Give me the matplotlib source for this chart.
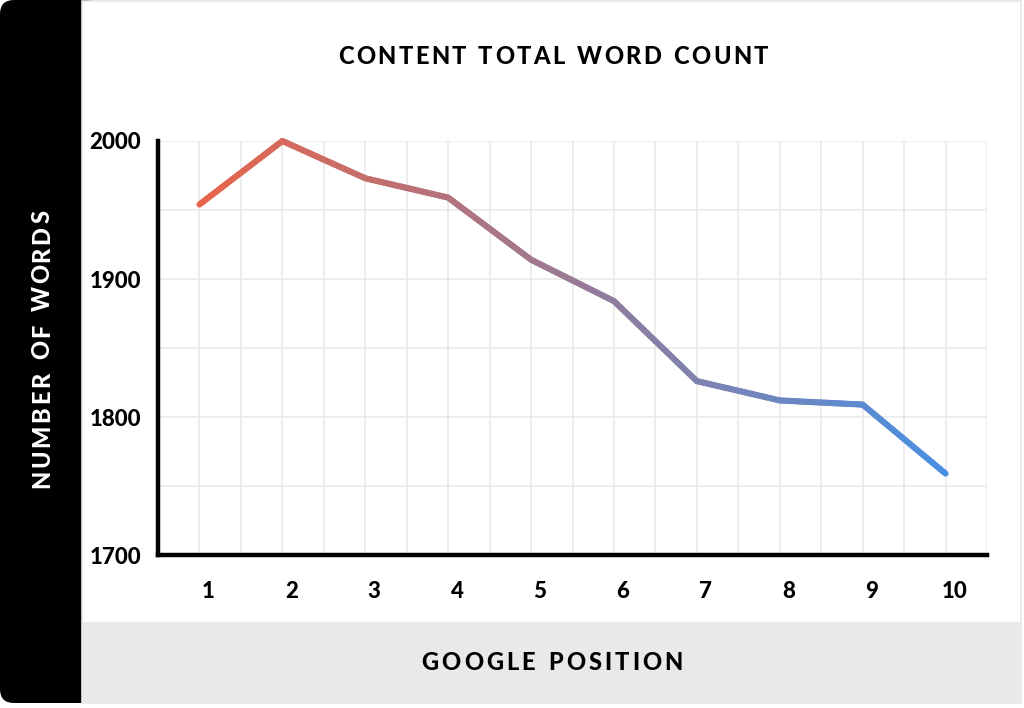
import numpy as np
import matplotlib
matplotlib.use("Agg")
import matplotlib.pyplot as plt
from matplotlib.patches import Rectangle, FancyBboxPatch
from matplotlib.collections import LineCollection
from matplotlib.colors import to_rgb
from matplotlib.font_manager import FontProperties
import matplotlib.transforms as mtransforms

# data
positions = [1, 2, 3, 4, 5, 6, 7, 8, 9, 10]
words = [1954, 2000, 1973, 1959, 1914, 1884, 1826, 1812, 1809, 1759]
y_ticks = [1700, 1800, 1900, 2000]

title = "CONTENT TOTAL WORD COUNT"
x_title = "GOOGLE POSITION"
y_title = "NUMBER OF WORDS"

c_start = "#E8644A"
c_end = "#4A90E2"
W, H = 1024, 708
FONT = "Lato"
WEIGHT = 900

fig = plt.figure(figsize=(W / 100, H / 100), dpi=100)
fig.patch.set_facecolor("white")

# background panels, drawn in pixel coordinates
bg = fig.add_axes([0, 0, 1, 1])
bg.set_xlim(0, W)
bg.set_ylim(H, 0)
bg.axis("off")
bg.add_patch(FancyBboxPatch((0, 0), 100, 703, boxstyle="round,pad=0,rounding_size=14",
                            fc="black", ec="none"))
bg.add_patch(Rectangle((82, 1), 939, 702, fc="white", ec="#E6E6E6", lw=1.2))
bg.add_patch(Rectangle((82, 622), 939, 81, fc="#E9E9E9", ec="none"))

renderer = fig.canvas.get_renderer()


def spaced(text, cx, cy, size, span, color, vertical=False):
    # draw text letter by letter so the tracking matches the reference
    fp = FontProperties(family=FONT, weight=WEIGHT, size=size)
    widths = []
    for ch in text:
        w, h, d = renderer.get_text_width_height_descent(ch if ch != " " else "n", fp, ismath=False)
        widths.append(w * (0.55 if ch == " " else 1.0))
    track = (span - sum(widths)) / (len(text) - 1)
    pos = -span / 2
    for ch, w in zip(text, widths):
        if vertical:
            bg.text(cx, cy - pos, ch, fontproperties=fp, color=color, rotation=90,
                    ha="center", va="bottom", rotation_mode="default")
        else:
            bg.text(cx + pos, cy, ch, fontproperties=fp, color=color, ha="left", va="center")
        pos += w + track


spaced(title, 553, 57, 17, 430, "black")
spaced(x_title, 552, 662, 17, 261, "black")
spaced(y_title, 42, 349, 17, 278, "white", vertical=True)

# main chart
ax = fig.add_axes([158 / W, 1 - 555 / H, (987 - 158) / W, (555 - 141) / H])
ax.set_facecolor("none")
ax.set_xlim(0.5, 10.5)
ax.set_ylim(1700, 2000)

ax.set_xticks(positions)
ax.set_xticks([p + 0.5 for p in positions], minor=True)
ax.set_yticks(y_ticks)
ax.set_yticks([v + 50 for v in y_ticks[:-1]], minor=True)
ax.grid(True, which="both", color="#E8E8E8", lw=1.1)
ax.set_axisbelow(True)
ax.tick_params(which="both", length=0)
ax.tick_params(axis="x", pad=19)
ax.tick_params(axis="y", pad=12)
for lab in ax.get_xticklabels() + ax.get_yticklabels():
    lab.set_fontfamily(FONT)
    lab.set_fontweight(WEIGHT)
    lab.set_fontsize(16)
    lab.set_color("black")
shift = mtransforms.ScaledTranslation(9 / 100, 0, fig.dpi_scale_trans)
for lab in ax.get_xticklabels():
    lab.set_transform(lab.get_transform() + shift)

for side in ["top", "right"]:
    ax.spines[side].set_visible(False)
for side in ["left", "bottom"]:
    ax.spines[side].set_linewidth(3.2)
    ax.spines[side].set_color("black")
    ax.spines[side].set_capstyle("projecting")

# gradient line: each data segment split into short pieces for the colour ramp
xs = np.array(positions, dtype=float)
ys = np.array(words, dtype=float)
segs, cols = [], []
a, b = np.array(to_rgb(c_start)), np.array(to_rgb(c_end))
n_sub = 30
for i in range(len(xs) - 1):
    t = np.linspace(0, 1, n_sub + 1)
    px = xs[i] + (xs[i + 1] - xs[i]) * t
    py = ys[i] + (ys[i + 1] - ys[i]) * t
    for j in range(n_sub):
        segs.append([(px[j], py[j]), (px[j + 1], py[j + 1])])
        f = ((px[j] + px[j + 1]) / 2 - xs[0]) / (xs[-1] - xs[0])
        cols.append(a + (b - a) * f)
lc = LineCollection(segs, colors=cols, linewidths=4.4, capstyle="round", joinstyle="round",
                    clip_on=False, zorder=3)
ax.add_collection(lc)

fig.savefig("out.png", dpi=100)
